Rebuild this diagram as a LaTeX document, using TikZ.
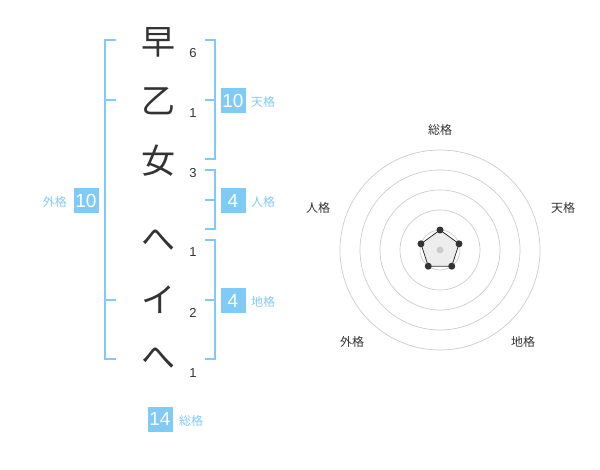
\documentclass[tikz,border=0pt]{standalone}
\usepackage{fontspec}
\setmainfont{Liberation Sans}
\newfontfamily\jp{Noto Sans CJK JP}
\definecolor{kblue}{HTML}{80CBF6}
\definecolor{kdark}{HTML}{333333}
\definecolor{kgrid}{HTML}{CCCCCC}
\begin{document}
\begin{tikzpicture}[x=1pt,y=-1pt,
  kanji/.style={font=\jp\fontsize{34}{34}\selectfont, text=kdark, inner sep=0pt},
  stroke/.style={font=\fontsize{13}{13}\selectfont, text=kdark, inner sep=0pt},
  brk/.style={draw=kblue, line width=2pt},
  valbox/.style={fill=kblue, text=white, font=\fontsize{19}{19}\selectfont, minimum width=25pt, minimum height=25pt, inner sep=0pt},
  lbl/.style={text=kblue, font=\jp\fontsize{12}{12}\selectfont, inner sep=0pt},
  rlbl/.style={text=kdark, font=\jp\fontsize{12}{12}\selectfont, inner sep=0pt},
  ring/.style={draw=kgrid, line width=0.7pt},
  vdot/.style={circle, fill=kdark, inner sep=0pt, minimum size=7pt}
]
\useasboundingbox (0,0) rectangle (600,470);
% characters
\node[kanji] (c1) at (158,42) {早};
\node[kanji] (c2) at (158,101) {乙};
\node[kanji] (c3) at (158,161) {女};
\node[kanji] (c4) at (158,240) {へ};
\node[kanji] (c5) at (158,300) {イ};
\node[kanji] (c6) at (158,358) {へ};
\node[stroke] (s1) at (193,53) {6};
\node[stroke] (s2) at (193,113) {1};
\node[stroke] (s3) at (193,173) {3};
\node[stroke] (s4) at (193,252) {1};
\node[stroke] (s5) at (193,313) {2};
\node[stroke] (s6) at (193,373) {1};
% left bracket
\coordinate (L1) at (105,40);
\coordinate (L2) at (105,359);
\draw[brk] (116,40) -- (L1) -- (L2) -- (116,359);
\draw[brk] (105,100) -- (116,100);
\draw[brk] (105,300) -- (116,300);
% right brackets
\draw[brk] (205,40) -- (215,40) -- (215,159) -- (205,159);
\draw[brk] (205,100) -- (215,100);
\draw[brk] (205,170) -- (215,170) -- (215,229) -- (205,229);
\draw[brk] (205,200) -- (215,200);
\draw[brk] (205,240) -- (215,240) -- (215,359) -- (205,359);
\draw[brk] (205,300) -- (215,300);
% value boxes
\node[valbox] (b1) at (233,101) {10};
\node[lbl, anchor=west] (t1) at (251,102) {天格};
\node[valbox] (b2) at (233,201) {4};
\node[lbl, anchor=west] (t2) at (251,202) {人格};
\node[valbox] (b3) at (233,301) {4};
\node[lbl, anchor=west] (t3) at (251,302) {地格};
\node[valbox] (b4) at (86,201) {10};
\node[lbl, anchor=east] (t4) at (67,202) {外格};
\node[valbox] (b5) at (160,419) {14};
\node[lbl, anchor=west] (t5) at (179,421) {総格};
% radar
\begin{scope}[shift={(440,250)}, y=1pt]
  \foreach \r in {20,40,60,80,100} \draw[ring] (0,0) circle (\r);
  \coordinate (p1) at (90:20pt);
  \coordinate (p2) at (18:20pt);
  \coordinate (p3) at (-54:20pt);
  \coordinate (p4) at (-126:20pt);
  \coordinate (p5) at (162:20pt);
  \draw[kdark, fill=black!7, line width=0.8pt] (p1) -- (p2) -- (p3) -- (p4) -- (p5) -- cycle;
  \node[circle, fill=kgrid, inner sep=0pt, minimum size=7pt] (ctr) at (0,0) {};
  \foreach \p in {p1,p2,p3,p4,p5} \node[vdot] at (\p) {};
\end{scope}
\node[rlbl] (r1) at (440,130) {総格};
\node[rlbl] (r2) at (563,208) {天格};
\node[rlbl] (r3) at (523,342) {地格};
\node[rlbl] (r4) at (352,342) {外格};
\node[rlbl] (r5) at (318,208) {人格};
\end{tikzpicture}
\end{document}
